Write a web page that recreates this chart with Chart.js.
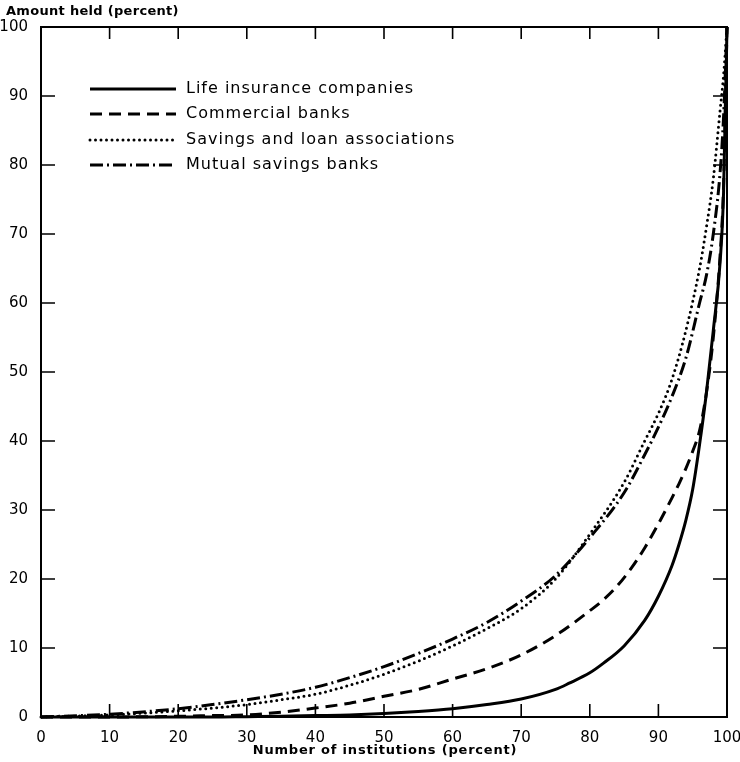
<!DOCTYPE html>
<html><head><meta charset="utf-8">
<script src="https://cdn.jsdelivr.net/npm/chart.js@4.4.1/dist/chart.umd.min.js"></script>
<style>html,body{margin:0;padding:0;background:#fff}</style>
</head><body>
<canvas id="c" width="740" height="762"></canvas>
<script>
// ---- Data ----
const xTicks = [0,10,20,30,40,50,60,70,80,90,100];
const yTicks = [0,10,20,30,40,50,60,70,80,90,100];

const lifeX = [0,10,20,25,30,35,40,45,50,55,60,65,70,75,77,80,82,85,88,90,92,93,94,95,96,97,98,99,99.5,100];
const lifeY = [0,0,0,0,0.05,0.1,0.2,0.3,0.5,0.8,1.2,1.8,2.6,4,4.9,6.4,7.8,10.3,14,17.5,22,25,28.5,33,39.5,47,56,66,76,100];

const commX = [0,10,20,25,30,35,40,45,50,55,60,65,70,75,80,82,84,86,88,90,92,93,94,95,96,97,98,99,99.5,100];
const commY = [0,0,0.1,0.2,0.3,0.7,1.3,2,3,4,5.5,7,9,11.8,15.4,17,19,21.5,24.5,28,31.8,33.8,36,38.5,41.5,47,55,67,77,100];

const slX = [0,10,20,25,30,35,40,45,50,55,60,65,70,75,80,85,88,90,92,94,96,97,98,99,99.5,100];
const slY = [0,0.3,0.9,1.3,1.8,2.5,3.3,4.6,6.2,8.1,10.3,12.8,15.7,20,26.5,34,40,44,49,56,65,71,78,88,93,100];

const msbX = [0,10,20,25,30,35,40,45,50,55,60,65,70,75,80,85,88,90,92,94,96,97,98,99,99.5,100];
const msbY = [0,0.4,1.2,1.8,2.5,3.3,4.3,5.7,7.3,9.2,11.3,13.7,16.8,20.5,26,32.5,38,42,46.5,52,60,64,70,79,87,100];

const seriesNames = ["Life insurance companies","Commercial banks","Savings and loan associations","Mutual savings banks"];
const xTitle = "Number of institutions (percent)";
const yTitle = "Amount held (percent)";

const pts = (xs, ys) => xs.map((v, i) => ({x: v, y: ys[i]}));
const FONT = "'DejaVu Sans', sans-serif";

const styles = [
  {borderDash: [], borderCapStyle: 'butt'},
  {borderDash: [12, 7], borderCapStyle: 'butt'},
  {borderDash: [0, 5.5], borderCapStyle: 'round'},
  {borderDash: [13, 4, 2, 4], borderCapStyle: 'butt'}
];
const dataSets = [pts(lifeX, lifeY), pts(commX, commY), pts(slX, slY), pts(msbX, msbY)];

const framePlugin = {
  id: 'frame',
  afterDraw(chart) {
    const {ctx, chartArea: a, scales: {x, y}} = chart;
    ctx.save();
    ctx.strokeStyle = '#000';
    ctx.lineWidth = 2;
    ctx.strokeRect(a.left, a.top, a.right - a.left, a.bottom - a.top);
    ctx.lineWidth = 1.6;
    ctx.beginPath();
    xTicks.slice(1, -1).forEach(v => {
      const px = x.getPixelForValue(v);
      ctx.moveTo(px, a.bottom); ctx.lineTo(px, a.bottom - 13);
      ctx.moveTo(px, a.top); ctx.lineTo(px, a.top + 12);
    });
    yTicks.slice(1, -1).forEach(v => {
      const py = y.getPixelForValue(v);
      ctx.moveTo(a.left, py); ctx.lineTo(a.left + 14, py);
      ctx.moveTo(a.right, py); ctx.lineTo(a.right - 14, py);
    });
    ctx.stroke();

    // legend
    const rows = [89, 114, 140, 165];
    chart.data.datasets.forEach((ds, i) => {
      const yy = rows[i];
      ctx.save();
      ctx.lineWidth = 3;
      ctx.setLineDash(ds.borderDash || []);
      ctx.lineCap = ds.borderCapStyle || 'butt';
      ctx.beginPath();
      ctx.moveTo(90, yy); ctx.lineTo(176, yy);
      ctx.stroke();
      ctx.restore();
      ctx.save();
      ctx.fillStyle = '#000';
      ctx.font = "16px " + FONT;
      ctx.letterSpacing = '1px';
      ctx.textAlign = 'left';
      ctx.textBaseline = 'middle';
      ctx.fillText(ds.label, 186, yy);
      ctx.restore();
    });

    // axis titles
    ctx.font = "bold 13px " + FONT;
    ctx.fillStyle = '#000';
    ctx.textBaseline = 'middle';
    ctx.letterSpacing = '0.3px';
    ctx.textAlign = 'left';
    ctx.fillText(yTitle, 6, 12);
    ctx.letterSpacing = '0.8px';
    ctx.textAlign = 'center';
    ctx.fillText(xTitle, 385, 751);
    ctx.restore();
  }
};

new Chart(document.getElementById('c'), {
  type: 'line',
  data: {
    datasets: dataSets.map((d, i) => ({
      label: seriesNames[i],
      data: d,
      borderColor: '#000',
      borderWidth: 3,
      borderDash: styles[i].borderDash,
      borderCapStyle: styles[i].borderCapStyle,
      pointRadius: 0,
      fill: false,
      cubicInterpolationMode: 'monotone',
      clip: false
    }))
  },
  options: {
    responsive: false,
    animation: false,
    layout: {padding: {top: 27, right: 13, left: 0, bottom: 0}, autoPadding: false},
    plugins: {legend: {display: false}, tooltip: {enabled: false}},
    scales: {
      x: {
        type: 'linear', min: 0, max: 100,
        afterBuildTicks: s => { s.ticks = xTicks.map(v => ({value: v})); },
        ticks: {font: {size: 15, family: FONT}, color: '#000', padding: 4, maxRotation: 0, autoSkip: false},
        grid: {display: false},
        border: {display: false},
        afterFit: s => { s.height = 45; s.paddingLeft = 0; s.paddingRight = 0; }
      },
      y: {
        type: 'linear', min: 0, max: 100,
        afterBuildTicks: s => { s.ticks = yTicks.map(v => ({value: v})); },
        ticks: {font: {size: 15, family: FONT}, color: '#000', padding: 5, autoSkip: false},
        grid: {display: false},
        border: {display: false},
        afterFit: s => { s.width = 41; s.paddingTop = 0; s.paddingBottom = 0; }
      }
    }
  },
  plugins: [framePlugin]
});
</script>
</body></html>
